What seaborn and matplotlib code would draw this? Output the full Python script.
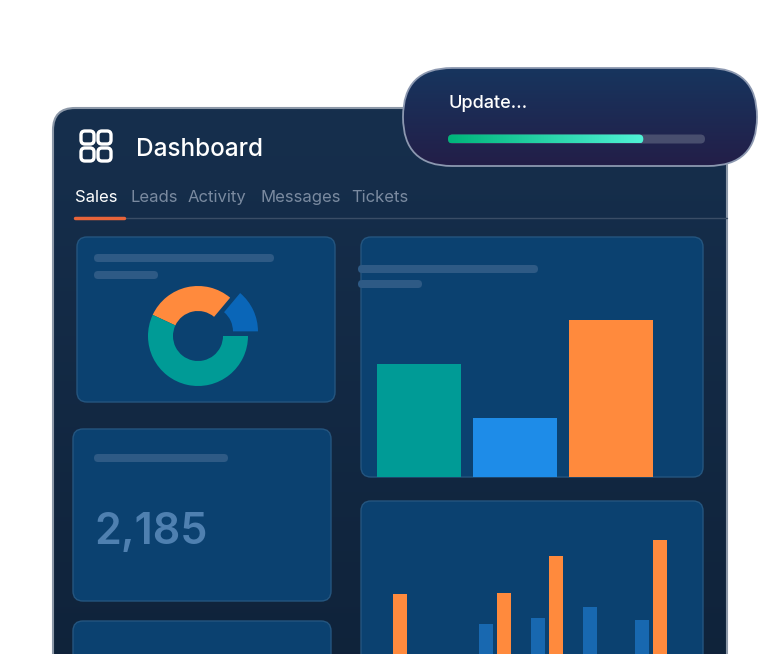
import numpy as np
import pandas as pd
import matplotlib
matplotlib.use("Agg")
import matplotlib.pyplot as plt
import seaborn as sns
from matplotlib.patches import FancyBboxPatch

sns.set_theme(style="white")
plt.rcParams['font.family'] = ['Inter', 'DejaVu Sans']

tabs = ["Sales", "Leads", "Activity", "Messages", "Tickets"]
tab_x = [75, 130, 188, 260, 351]
kpi_value = "2,185"
top_cats = ["A", "B", "C"]
top_vals = [113, 59, 157]
top_colors = ["#009b96", "#1e8ce8", "#ff8a3d"]
grp_cats = ["g1", "g2", "g3", "g4", "g5", "g6"]
blue_vals = [0, 0, 36, 42, 53, 40]
orange_vals = [66, 0, 67, 104, 0, 120]
donut_vals = [105, 50, 205]
donut_colors = ["#ff8a3d", "#0a66b8", "#009b96"]
progress = 0.76

W, H = 782, 654
fig = plt.figure(figsize=(W/100, H/100), dpi=100)
fig.patch.set_facecolor("white")
ax = fig.add_axes([0, 0, 1, 1])
ax.set_xlim(0, W); ax.set_ylim(H, 0); ax.axis("off")

def gradient_box(x0, y0, x1, y1, c0, c1, r, edge, lw=1.2, z=1, horiz=False):
    p = FancyBboxPatch((x0, y0), x1-x0, y1-y0, boxstyle=f"round,pad=0,rounding_size={r}",
                       fc="none", ec=edge, lw=lw, zorder=z+0.1)
    ax.add_patch(p)
    clip = FancyBboxPatch((x0, y0), x1-x0, y1-y0, boxstyle=f"round,pad=0,rounding_size={r}",
                          fc="none", ec="none", transform=ax.transData)
    ax.add_patch(clip)
    a = np.array(matplotlib.colors.to_rgb(c0)); b = np.array(matplotlib.colors.to_rgb(c1))
    t = np.linspace(0, 1, 100)
    g = a[None, :]*(1-t[:, None]) + b[None, :]*t[:, None]
    img = g[None, :, :] if horiz else g[:, None, :]
    im = ax.imshow(img, extent=(x0, x1, y1, y0), aspect="auto", zorder=z, interpolation="bilinear")
    im.set_clip_path(clip)
    return clip

def box(x0, y0, x1, y1, fc, ec, r=10, z=3):
    ax.add_patch(FancyBboxPatch((x0, y0), x1-x0, y1-y0, boxstyle=f"round,pad=0,rounding_size={r}",
                                fc=fc, ec=ec, lw=1, zorder=z))

def pill(x0, x1, y, h, c, z=4):
    ax.add_patch(FancyBboxPatch((x0, y-h/2), x1-x0, h, boxstyle=f"round,pad=0,rounding_size={h/2}",
                                fc=c, ec="none", zorder=z))

# main panel
gradient_box(53, 108, 727, 700, "#162f4d", "#0f2239", 22, "#8c98a8", lw=1.5, z=1)

# icon
for (x, y) in [(81, 131), (98, 131), (81, 148), (98, 148)]:
    ax.add_patch(FancyBboxPatch((x, y), 13, 13, boxstyle="round,pad=0,rounding_size=4",
                                fc="none", ec="white", lw=2.4, zorder=5))
ax.text(136, 150, "Dashboard", color="white", fontsize=17.5, fontweight="medium",
        va="center", ha="left", zorder=5)

for i, (t, x) in enumerate(zip(tabs, tab_x)):
    ax.text(x, 202, t, color="white" if i == 0 else "#7a8aa0", fontsize=12,
            va="baseline", ha="left", zorder=5)
ax.plot([75, 727], [217.5, 217.5], color="#3a4d66", lw=1, zorder=4)
ax.plot([75, 124], [217.5, 217.5], color="#e8643a", lw=2.5, zorder=5)

card_fc, card_ec, line_c = "#0b4170", "#24557f", "#2e5a85"
box(77, 237, 335, 402, card_fc, card_ec)
box(73, 429, 331, 601, card_fc, card_ec)
box(73, 621, 331, 700, card_fc, card_ec)
box(361, 237, 703, 477, card_fc, card_ec)
box(361, 501, 703, 700, card_fc, card_ec)

pill(94, 274, 258, 8, line_c); pill(94, 158, 275, 8, line_c)
pill(94, 228, 458, 8, line_c)
pill(358, 538, 269, 8, line_c); pill(358, 422, 284, 8, line_c)
ax.text(94, 533, kpi_value, color="#4f80b0", fontsize=31, fontweight="semibold",
        va="center", ha="left", zorder=5)

# donut
dax = fig.add_axes([(198-65)/W, 1-(336+65)/H, 130/W, 130/H])
dax.pie(donut_vals, colors=donut_colors, startangle=155, counterclock=False,
        explode=[0, 0.22, 0], radius=1, wedgeprops=dict(width=0.5, edgecolor="none"))
dax.set_xlim(-1.3, 1.3); dax.set_ylim(-1.3, 1.3); dax.set_aspect("equal"); dax.axis("off")

# top bar chart
bax = fig.add_axes([371/W, 1-477/H, 288/W, 240/H])
df1 = pd.DataFrame({"cat": top_cats, "val": top_vals})
sns.barplot(data=df1, x="cat", y="val", hue="cat", palette=top_colors, width=0.875,
            legend=False, ax=bax, saturation=1, edgecolor="none", linewidth=0)
bax.set_xlim(-0.5, 2.5); bax.set_ylim(0, 240); bax.axis("off"); bax.patch.set_alpha(0)

# bottom grouped chart
gax = fig.add_axes([365/W, 1-660/H, 312/W, 160/H])
df2 = pd.DataFrame({"grp": grp_cats*2, "val": blue_vals+orange_vals,
                    "s": ["blue"]*6 + ["orange"]*6})
sns.barplot(data=df2, x="grp", y="val", hue="s", palette={"blue": "#1868b0", "orange": "#ff8a3d"},
            width=0.69, dodge=True, legend=False, ax=gax, saturation=1, edgecolor="none", linewidth=0)
for p in gax.patches:
    cx = p.get_x() + p.get_width()/2
    p.set_width(14/52); p.set_x(cx - 7/52)
gax.set_xlim(-0.5, 5.5); gax.set_ylim(0, 160); gax.axis("off"); gax.patch.set_alpha(0)

# popup
gradient_box(403, 68, 757, 166, "#17355e", "#231e48", 49, "#8c98b0", lw=1.3, z=8)
ax.text(448, 103, "Update...", color="white", fontsize=13, fontweight="medium",
        va="center", ha="left", zorder=10)
pill(448, 705, 139, 9, "#484e6e", z=10)
x_end = 448 + progress*(705-448)
clip = FancyBboxPatch((448, 134.5), x_end-448, 9, boxstyle="round,pad=0,rounding_size=4.5",
                      fc="none", ec="none")
ax.add_patch(clip)
t = np.linspace(0, 1, 100)
a = np.array(matplotlib.colors.to_rgb("#00b57a")); b = np.array(matplotlib.colors.to_rgb("#50f2d6"))
g = (a[None, :]*(1-t[:, None]) + b[None, :]*t[:, None])[None, :, :]
im = ax.imshow(g, extent=(448, x_end, 143.5, 134.5), aspect="auto", zorder=11)
im.set_clip_path(clip)
ax.set_xlim(0, W); ax.set_ylim(H, 0)

fig.savefig("out.png", dpi=100, facecolor="white")
